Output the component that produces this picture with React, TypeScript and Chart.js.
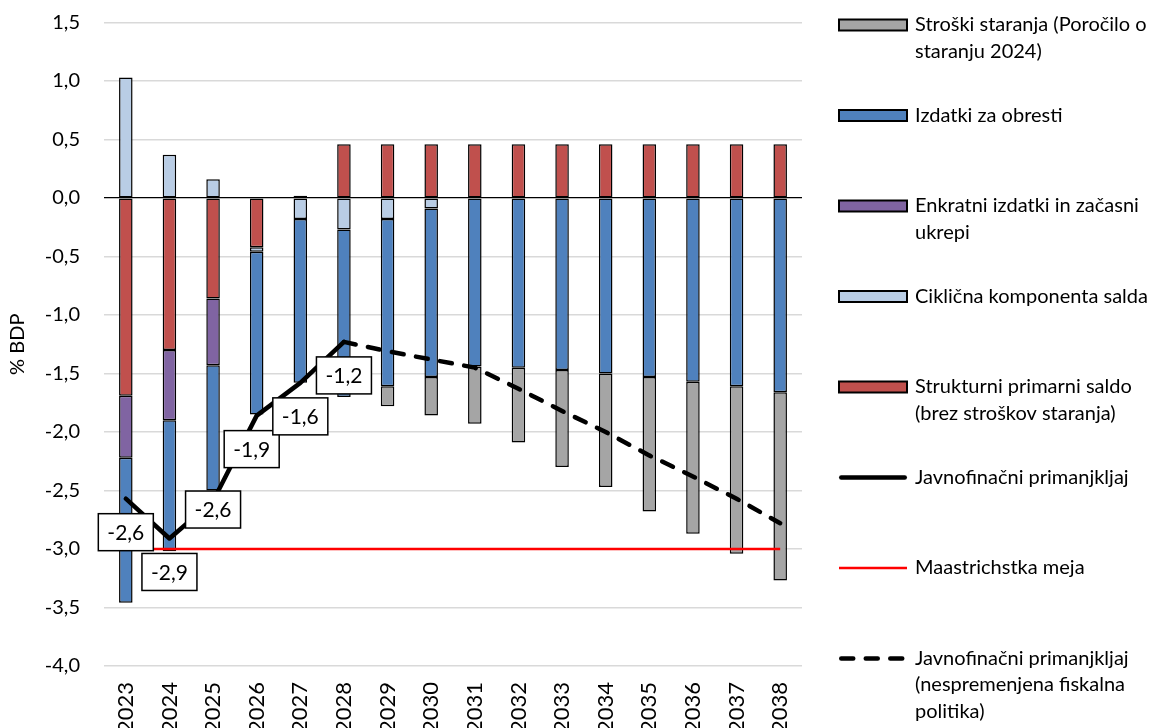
import React, { useEffect, useRef } from 'react';
import { Chart, registerables } from 'chart.js';

Chart.register(...registerables);

const years = ['2023', '2024', '2025', '2026', '2027', '2028', '2029', '2030', '2031', '2032', '2033', '2034', '2035', '2036', '2037', '2038'];

const structuralPrimary = [-1.69, -1.30, -0.86, -0.42, 0.02, 0.46, 0.46, 0.46, 0.46, 0.46, 0.46, 0.46, 0.46, 0.46, 0.46, 0.46];
const cyclical = [1.03, 0.37, 0.16, -0.04, -0.18, -0.27, -0.18, -0.09, null, null, null, null, null, null, null, null];
const oneOff = [-0.53, -0.60, -0.57, null, null, null, null, null, null, null, null, null, null, null, null, null];
const interest = [-1.24, -1.12, -1.07, -1.39, -1.40, -1.43, -1.43, -1.44, -1.44, -1.45, -1.47, -1.50, -1.53, -1.57, -1.61, -1.66];
const ageing = [null, null, null, null, null, null, -0.17, -0.33, -0.49, -0.64, -0.83, -0.97, -1.15, -1.30, -1.43, -1.61];
const deficit = [-2.57, -2.91, -2.59, -1.86, -1.58, -1.23, null, null, null, null, null, null, null, null, null, null];
const maastricht = [-3, -3, -3, -3, -3, -3, -3, -3, -3, -3, -3, -3, -3, -3, -3, -3];
const deficitNoPolicy = [null, null, null, null, null, -1.23, -1.31, -1.38, -1.45, -1.63, -1.82, -2.00, -2.20, -2.38, -2.57, -2.78];

const FONT = 'Lato, "Open Sans", sans-serif';
const FS = 20;
const FS_X = 22;
const FS_LEGEND = 20;
const FS_LABEL = 21;

const fmt = (v: number) => v.toFixed(1).replace('.', ',');

const labelBoxPlugin = {
  id: 'labelBoxes',
  afterDatasetsDraw(chart: any) {
    const ctx = chart.ctx;
    const meta = chart.getDatasetMeta(5);
    const data = chart.data.datasets[5].data;
    const dyDefault = 33.5;
    const dyOverride: Record<number, number> = { 2: 8.5 };
    const dxOverride: Record<number, number> = { 3: -5 };
    ctx.save();
    meta.data.forEach((el: any, i: number) => {
      const v = data[i];
      if (v === null || v === undefined) return;
      const w = 55;
      const h = 37;
      const cx = el.x + (dxOverride[i] ?? 0);
      const cy = el.y + (dyOverride[i] ?? dyDefault);
      ctx.fillStyle = '#ffffff';
      ctx.fillRect(cx - w / 2, cy - h / 2, w, h);
      ctx.strokeStyle = '#000000';
      ctx.lineWidth = 1.5;
      ctx.strokeRect(cx - w / 2, cy - h / 2, w, h);
      ctx.fillStyle = '#000000';
      ctx.font = `${FS_LABEL}px ${FONT}`;
      ctx.textAlign = 'center';
      ctx.textBaseline = 'middle';
      ctx.fillText(fmt(v), cx, cy + 1);
    });
    ctx.restore();
  },
};

const legendPlugin = {
  id: 'sideLegend',
  afterDraw(chart: any) {
    const ctx = chart.ctx;
    const order = [4, 3, 2, 1, 0, 5, 6, 7];
    const area = chart.chartArea;
    const symX = area.right + 37;
    const symW = 68;
    const textX = area.right + 113;
    const startY = 25;
    const stepY = 90.5;
    const lineH = 26.5;
    ctx.save();
    order.forEach((dsIndex, k) => {
      const ds = chart.data.datasets[dsIndex];
      const y = startY + k * stepY;
      if (ds.type === 'line') {
        ctx.beginPath();
        ctx.strokeStyle = ds.borderColor;
        ctx.lineWidth = ds.borderWidth;
        ctx.lineCap = ds.borderCapStyle || 'butt';
        ctx.setLineDash(ds.borderDash || []);
        const pad = ds.borderCapStyle === 'round' ? ds.borderWidth / 2 : 0;
        ctx.moveTo(symX + pad, y);
        ctx.lineTo(symX + symW - pad, y);
        ctx.stroke();
        ctx.setLineDash([]);
      } else {
        ctx.fillStyle = ds.backgroundColor;
        ctx.fillRect(symX, y - 5.5, symW, 11);
        ctx.strokeStyle = '#000';
        ctx.lineWidth = 2;
        ctx.strokeRect(symX, y - 5.5, symW, 11);
      }
      ctx.fillStyle = '#000';
      ctx.font = `${FS_LEGEND}px ${FONT}`;
      ctx.textAlign = 'left';
      ctx.textBaseline = 'middle';
      String(ds.label).split('\n').forEach((line: string, j: number) => {
        ctx.fillText(line, textX, y + j * lineH);
      });
    });
    ctx.restore();
  },
};

export default function App() {
  const canvasRef = useRef<HTMLCanvasElement | null>(null);

  useEffect(() => {
    if (!canvasRef.current) return;
    const barCommon = {
      type: 'bar' as const,
      borderColor: '#000000',
      borderWidth: 1.5,
      borderSkipped: false,
      barPercentage: 0.31,
      categoryPercentage: 1,
      order: 2,
    };
    const chart = new Chart(canvasRef.current, {
      type: 'bar',
      data: {
        labels: years,
        datasets: [
          { ...barCommon, label: 'Strukturni primarni saldo\n(brez stroškov staranja)', data: structuralPrimary, backgroundColor: '#c0504d' },
          { ...barCommon, label: 'Ciklična komponenta salda', data: cyclical, backgroundColor: '#b9cde5' },
          { ...barCommon, label: 'Enkratni izdatki in začasni\nukrepi', data: oneOff, backgroundColor: '#8064a2' },
          { ...barCommon, label: 'Izdatki za obresti', data: interest, backgroundColor: '#4f81bd' },
          { ...barCommon, label: 'Stroški staranja (Poročilo o\nstaranju 2024)', data: ageing, backgroundColor: '#a5a5a5' },
          {
            type: 'line', label: 'Javnofinačni primanjkljaj', data: deficit, stack: 'l1', order: 0,
            borderColor: '#000000', borderWidth: 4.5, pointRadius: 0, tension: 0,
            borderJoinStyle: 'round', borderCapStyle: 'round', spanGaps: false,
          },
          {
            type: 'line', label: 'Maastrichstka meja', data: maastricht, stack: 'l2', order: 1,
            borderColor: '#ff0000', borderWidth: 2.5, pointRadius: 0, tension: 0,
          },
          {
            type: 'line', label: 'Javnofinačni primanjkljaj\n(nespremenjena fiskalna\npolitika)', data: deficitNoPolicy, stack: 'l3', order: 0,
            borderColor: '#000000', borderWidth: 4.5, borderDash: [12, 12.5], borderCapStyle: 'round', pointRadius: 0, tension: 0,
          },
        ] as any,
      },
      options: {
        animation: false,
        responsive: true,
        maintainAspectRatio: false,
        layout: { padding: { top: 22.5, right: 347, left: 0, bottom: 0 } },
        plugins: {
          legend: { display: false },
          tooltip: { enabled: false },
        },
        scales: {
          x: {
            stacked: true,
            grid: { display: false, drawTicks: false },
            border: { display: false },
            ticks: {
              autoSkip: false,
              minRotation: 90,
              maxRotation: 90,
              padding: 16,
              color: '#000',
              font: { family: FONT, size: FS_X },
            },
            afterFit: (scale: any) => { scale.height = 62; },
          },
          y: {
            stacked: true,
            min: -4,
            max: 1.5,
            border: { display: false },
            grid: {
              drawTicks: true,
              tickLength: 24,
              tickColor: 'rgba(0,0,0,0)',
              color: (c: any) => (c.tick && Math.abs(c.tick.value) < 1e-9 ? '#000000' : '#d9d9d9'),
              lineWidth: (c: any) => (c.tick && Math.abs(c.tick.value) < 1e-9 ? 1.2 : 1.5),
            },
            ticks: {
              stepSize: 0.5,
              padding: 0,
              color: '#000',
              font: { family: FONT, size: FS },
              callback: (v: any) => fmt(Number(v)),
            },
            title: {
              display: true,
              text: '% BDP',
              color: '#000',
              font: { family: FONT, size: FS },
              padding: { top: 6, bottom: 0 },
            },
            afterFit: (scale: any) => { scale.width = 104; },
          },
        },
      } as any,
      plugins: [labelBoxPlugin, legendPlugin],
    });
    return () => chart.destroy();
  }, []);

  return (
    <div style={{ position: 'fixed', left: 0, top: 0, width: 1149, height: 728, background: '#ffffff' }}>
      <canvas ref={canvasRef} />
    </div>
  );
}
